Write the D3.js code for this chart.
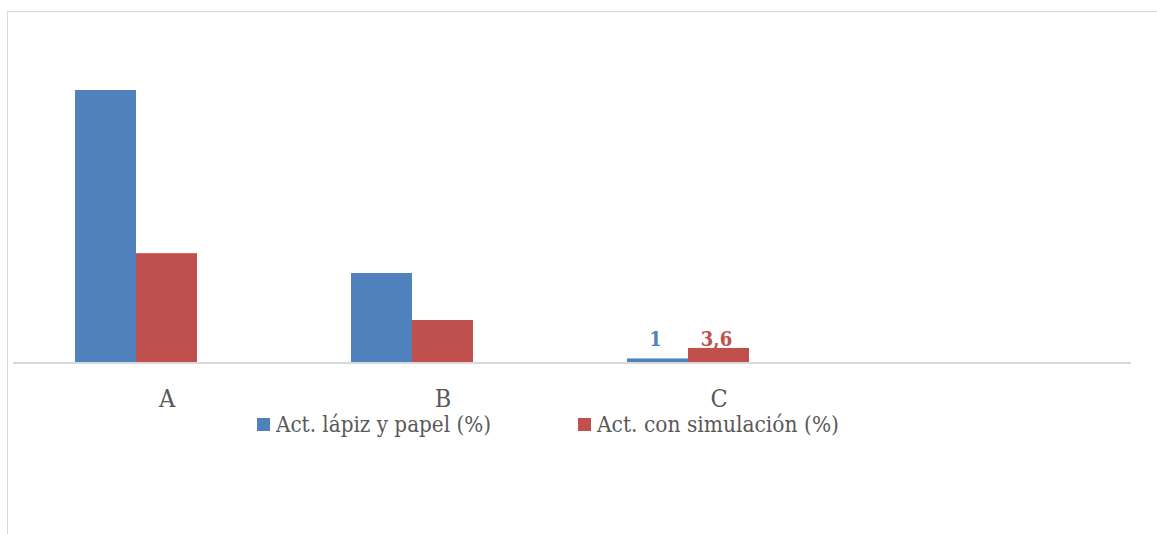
<!DOCTYPE html>
<html>
<head>
<meta charset="utf-8">
<script src="https://cdn.jsdelivr.net/npm/d3@7"></script>
<style>
body { margin: 0; background: #fff; }
text { font-family: "DejaVu Serif", "Liberation Serif", serif; }
</style>
</head>
<body>
<div id="chart"></div>
<script>
// datos
var categories = ["A", "B", "C", ""];
var seriesNames = ["Act. lápiz y papel (%)", "Act. con simulación (%)"];
var lapiz = [67.3, 22.1, 1];
var simulacion = [27.0, 10.5, 3.6];
var colors = ["#4f81bd", "#c0504d"];
var labelShown = [false, false, true]; // solo C lleva etiqueta

var W = 1157, H = 534;
var svg = d3.select("#chart").append("svg")
	.attr("width", W)
	.attr("height", H);

// marco del grafico (se sale por la derecha y abajo)
svg.append("rect")
	.attr("x", 7.5).attr("y", 11.5)
	.attr("width", 1170).attr("height", 560)
	.attr("fill", "none")
	.attr("stroke", "#d9d9d9")
	.attr("stroke-width", 1);

var x = d3.scaleBand().domain(categories).range([-2, 1102]);
var x1 = d3.scaleBand().domain([0, 1]).range([0, 122]);
var y = d3.scaleLinear().domain([0, 67.3]).range([362.5, 90]);

var rows = categories.slice(0, 3).map(function(c, i) {
	return {cat: c, vals: [lapiz[i], simulacion[i]], lab: labelShown[i]};
});

var g = svg.selectAll(".grp").data(rows).enter().append("g")
	.attr("transform", function(d) { return "translate(" + (x(d.cat) + x.bandwidth()/2 - 61) + ",0)"; });

g.selectAll("rect").data(function(d) { return d.vals.map(function(v, j) { return {v: v, j: j}; }); })
	.enter().append("rect")
	.attr("x", function(d) { return x1(d.j); })
	.attr("width", x1.bandwidth())
	.attr("y", function(d) { return y(d.v); })
	.attr("height", function(d) { return y(0) - y(d.v); })
	.attr("fill", function(d) { return colors[d.j]; });

// etiquetas de datos, alineadas sobre la barra mas alta del grupo
g.selectAll(".lbl").data(function(d) {
		var top = y(d3.max(d.vals));
		return d.lab ? d.vals.map(function(v, j) { return {v: v, j: j, top: top}; }) : [];
	})
	.enter().append("text")
	.attr("transform", function(d) { return "translate(" + (x1(d.j) + x1.bandwidth()/2 - 2) + "," + (d.top - 2) + ") scale(0.9,1)"; })
	.attr("text-anchor", "middle")
	.attr("font-size", 20)
	.attr("font-weight", "bold")
	.attr("fill", function(d) { return colors[d.j]; })
	.text(function(d) { return String(d.v).replace(".", ","); });

// eje horizontal
svg.append("line")
	.attr("x1", 13).attr("x2", 1131)
	.attr("y1", y(0) + 0.5).attr("y2", y(0) + 0.5)
	.attr("stroke", "#d9d9d9")
	.attr("stroke-width", 2);

svg.selectAll(".cat").data(categories.slice(0, 3)).enter().append("text")
	.attr("transform", function(d) { return "translate(" + (x(d) + x.bandwidth()/2 + 31) + ",407) scale(0.9,1)"; })
	.attr("text-anchor", "middle")
	.attr("font-size", 25)
	.attr("fill", "#595959")
	.text(function(d) { return d; });

// leyenda
var legX = [257, 578], legW = [215, 242];
var leg = svg.selectAll(".leg").data(seriesNames).enter().append("g")
	.attr("transform", function(d, i) { return "translate(" + legX[i] + ",0)"; });
leg.append("rect")
	.attr("x", 0).attr("y", 418)
	.attr("width", 13).attr("height", 13)
	.attr("fill", function(d, i) { return colors[i]; });
leg.append("text")
	.attr("x", 19).attr("y", 432)
	.attr("font-size", 22)
	.attr("fill", "#595959")
	.attr("textLength", function(d, i) { return legW[i]; })
	.attr("lengthAdjust", "spacingAndGlyphs")
	.text(function(d) { return d; });
</script>
</body>
</html>
